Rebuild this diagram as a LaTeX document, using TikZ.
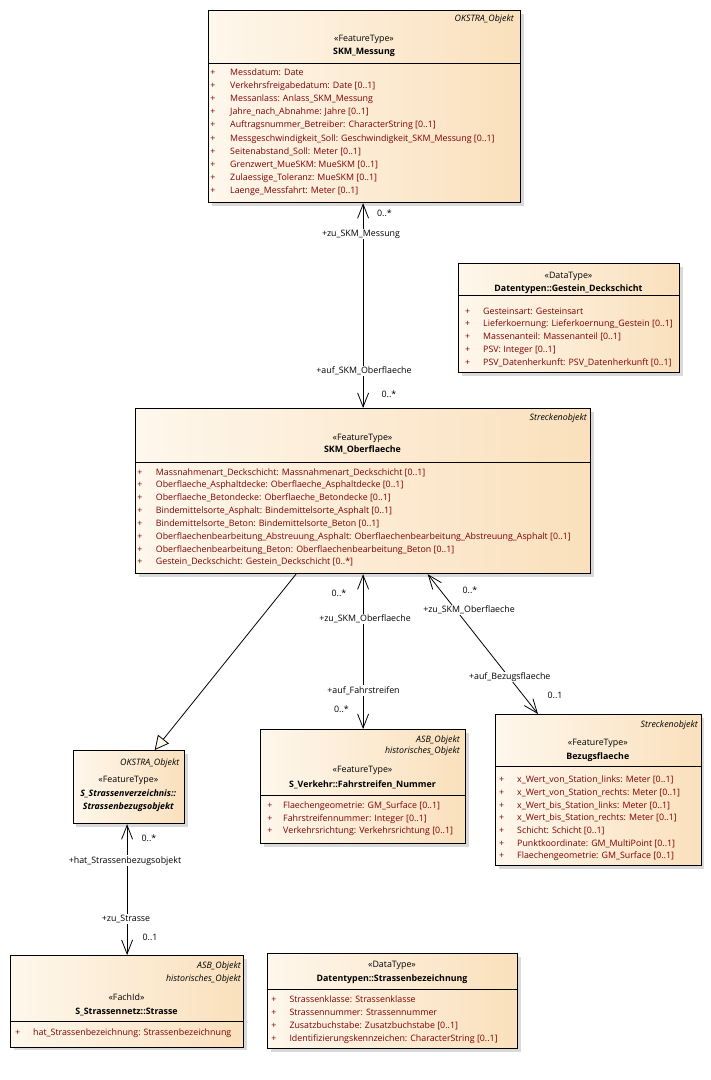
\documentclass[tikz,border=0pt]{standalone}
\usepackage{fontspec}
\setmainfont{Open Sans}
\usetikzlibrary{arrows.meta,shadows,calc}
\definecolor{attrred}{RGB}{128,0,0}
\definecolor{fillL}{RGB}{254,247,236}
\definecolor{fillR}{RGB}{250,224,188}
\newcommand\tf{\fontsize{8.85}{10}\selectfont}
\tikzset{
  cls/.style={draw=black, line width=1.2pt, left color=fillL, right color=fillR, inner sep=0, anchor=north west,
    drop shadow={shadow xshift=3pt, shadow yshift=-3pt, fill=black!15, opacity=1}},
  sepline/.style={line width=0.9pt},
  txt/.style={inner sep=0, font=\tf, text height=6.6pt, text depth=2pt},
  attr/.style={txt, anchor=west, text=attrred},
  plus/.style={txt, anchor=center, text=attrred},
  ster/.style={txt, anchor=center},
  cname/.style={txt, anchor=center, font=\tf\bfseries},
  aname/.style={txt, anchor=center, font=\tf\bfseries\itshape},
  tag/.style={txt, anchor=east, font=\tf\itshape},
  lab/.style={txt, fill=white, inner sep=1pt},
  mult/.style={txt},
  assoc/.style={line width=0.8pt, {Straight Barb[length=14pt,width=11pt]}-{Straight Barb[length=14pt,width=11pt]}},
  gen/.style={line width=0.8pt, -{Triangle[length=14pt,width=14pt,fill=fillL]}},
}
\begin{document}
\begin{tikzpicture}[x=1pt,y=-1pt]
\useasboundingbox[fill=white] (0,0) rectangle (711,1080);

% ---------- SKM_Messung ----------
\node[cls, minimum width=312, minimum height=192] (msg) at (208,10) {};
\draw[sepline] (msg.west |- 0,63) coordinate (msgs1) -- (msg.east |- 0,63) coordinate (msgs2);
\node[tag] (msgt) at (514,19) {OKSTRA\_Objekt};
\node[ster] (msgs) at (364,39) {«FeatureType»};
\node[cname] (msgn) at (364,52.3) {SKM\_Messung};
\foreach \t [count=\i from 0] in {Messdatum: Date,Verkehrsfreigabedatum: Date [0..1],Messanlass: Anlass\_SKM\_Messung,Jahre\_nach\_Abnahme: Jahre [0..1],Auftragsnummer\_Betreiber: CharacterString [0..1],Messgeschwindigkeit\_Soll: Geschwindigkeit\_SKM\_Messung [0..1],Seitenabstand\_Soll: Meter [0..1],Grenzwert\_MueSKM: MueSKM [0..1],Zulaessige\_Toleranz: MueSKM [0..1],Laenge\_Messfahrt: Meter [0..1]}{
  \node[plus] (msgp\i) at (213,73.3+13.08*\i) {+};
  \node[attr] (msga\i) at (230,73.3+13.08*\i) {\t};
}

% ---------- Gestein_Deckschicht ----------
\node[cls, minimum width=221, minimum height=109] (gst) at (458,263) {};
\draw[sepline] (gst.west |- 0,295) -- (gst.east |- 0,295);
\node[ster] (gsts) at (568.5,275.7) {«DataType»};
\node[cname] (gstn) at (568.5,289) {Datentypen::Gestein\_Deckschicht};
\foreach \t [count=\i from 0] in {Gesteinsart: Gesteinsart,Lieferkoernung: Lieferkoernung\_Gestein [0..1],Massenanteil: Massenanteil [0..1],PSV: Integer [0..1],PSV\_Datenherkunft: PSV\_Datenherkunft [0..1]}{
  \node[plus] (gstp\i) at (467.7,311.7+12.75*\i) {+};
  \node[attr] (gsta\i) at (483,311.7+12.75*\i) {\t};
}

% ---------- SKM_Oberflaeche ----------
\node[cls, minimum width=455, minimum height=165] (obf) at (135,408) {};
\draw[sepline] (obf.west |- 0,462) -- (obf.east |- 0,462);
\node[tag] (obft) at (587,418) {Streckenobjekt};
\node[ster] (obfs) at (362.5,437.7) {«FeatureType»};
\node[cname] (obfn) at (362.5,450) {SKM\_Oberflaeche};
\foreach \t [count=\i from 0] in {Massnahmenart\_Deckschicht: Massnahmenart\_Deckschicht [0..1],Oberflaeche\_Asphaltdecke: Oberflaeche\_Asphaltdecke [0..1],Oberflaeche\_Betondecke: Oberflaeche\_Betondecke [0..1],Bindemittelsorte\_Asphalt: Bindemittelsorte\_Asphalt [0..1],Bindemittelsorte\_Beton: Bindemittelsorte\_Beton [0..1],Oberflaechenbearbeitung\_Abstreuung\_Asphalt: Oberflaechenbearbeitung\_Abstreuung\_Asphalt [0..1],Oberflaechenbearbeitung\_Beton: Oberflaechenbearbeitung\_Beton [0..1],Gestein\_Deckschicht: Gestein\_Deckschicht [0..*]}{
  \node[plus] (obfp\i) at (140,472.7+12.85*\i) {+};
  \node[attr] (obfa\i) at (155.7,472.7+12.85*\i) {\t};
}

% ---------- Strassenbezugsobjekt ----------
\node[cls, minimum width=111.3, minimum height=73] (sbo) at (72.7,750) {};
\node[tag] (sbot) at (179.5,763) {OKSTRA\_Objekt};
\node[ster] (sbos) at (128.3,780) {«FeatureType»};
\node[aname] (sbon1) at (128.3,794) {S\_Strassenverzeichnis::};
\node[aname] (sbon2) at (128.3,807) {Strassenbezugsobjekt};

% ---------- S_Verkehr::Fahrstreifen_Nummer ----------
\node[cls, minimum width=205, minimum height=114] (fsn) at (260,729) {};
\draw[sepline] (fsn.west |- 0,795) -- (fsn.east |- 0,795);
\node[tag] (fsnt1) at (460,740) {ASB\_Objekt};
\node[tag] (fsnt2) at (460,751.5) {historisches\_Objekt};
\node[ster] (fsns) at (362.5,770) {«FeatureType»};
\node[cname] (fsnn) at (362.5,785) {S\_Verkehr::Fahrstreifen\_Nummer};
\foreach \t [count=\i from 0] in {Flaechengeometrie: GM\_Surface [0..1],Fahrstreifennummer: Integer [0..1],Verkehrsrichtung: Verkehrsrichtung [0..1]}{
  \node[plus] (fsnp\i) at (270,806+12.8*\i) {+};
  \node[attr] (fsna\i) at (283,806+12.8*\i) {\t};
}

% ---------- Bezugsflaeche ----------
\node[cls, minimum width=205.7, minimum height=151] (bzf) at (495,714) {};
\draw[sepline] (bzf.west |- 0,766.7) -- (bzf.east |- 0,766.7);
\node[tag] (bzft) at (698,725) {Streckenobjekt};
\node[ster] (bzfs) at (597.8,743) {«FeatureType»};
\node[cname] (bzfn) at (597.8,756.7) {Bezugsflaeche};
\foreach \t [count=\i from 0] in {x\_Wert\_von\_Station\_links: Meter [0..1],x\_Wert\_von\_Station\_rechts: Meter [0..1],x\_Wert\_bis\_Station\_links: Meter [0..1],x\_Wert\_bis\_Station\_rechts: Meter [0..1],Schicht: Schicht [0..1],Punktkoordinate: GM\_MultiPoint [0..1],Flaechengeometrie: GM\_Surface [0..1]}{
  \node[plus] (bzfp\i) at (501.7,780.6+12.65*\i) {+};
  \node[attr] (bzfa\i) at (517,780.6+12.65*\i) {\t};
}

% ---------- S_Strassennetz::Strasse ----------
\node[cls, minimum width=233, minimum height=91.7] (str) at (10,955) {};
\draw[sepline] (str.west |- 0,1021.7) -- (str.east |- 0,1021.7);
\node[tag] (strt1) at (241,965.7) {ASB\_Objekt};
\node[tag] (strt2) at (241,979) {historisches\_Objekt};
\node[ster] (strs) at (126.5,998) {«FachId»};
\node[cname] (strn) at (126.5,1011.7) {S\_Strassennetz::Strasse};
\node[plus] (strp0) at (17.7,1032.7) {+};
\node[attr] (stra0) at (33,1032.7) {hat\_Strassenbezeichnung: Strassenbezeichnung};

% ---------- Strassenbezeichnung ----------
\node[cls, minimum width=250, minimum height=95] (sbz) at (267,953) {};
\draw[sepline] (sbz.west |- 0,989.7) -- (sbz.east |- 0,989.7);
\node[ster] (sbzs) at (392,964.7) {«DataType»};
\node[cname] (sbzn) at (392,978.7) {Datentypen::Strassenbezeichnung};
\foreach \t [count=\i from 0] in {Strassenklasse: Strassenklasse,Strassennummer: Strassennummer,Zusatzbuchstabe: Zusatzbuchstabe [0..1],Identifizierungskennzeichen: CharacterString [0..1]}{
  \node[plus] (sbzp\i) at (274,1000.3+12.8*\i) {+};
  \node[attr] (sbza\i) at (289.3,1000.3+12.8*\i) {\t};
}

% ---------- connectors ----------
% SKM_Messung -- SKM_Oberflaeche
\draw[assoc] (obf.north |- msg.south) -- (obf.north);
\node[mult] (m1a) at (384.5,214) {0..*};
\node[lab] (l1a) at (361,234) {+zu\_SKM\_Messung};
\node[lab] (l1b) at (364,371) {+auf\_SKM\_Oberflaeche};
\node[mult] (m1b) at (389,395) {0..*};

% SKM_Oberflaeche -- Fahrstreifen_Nummer
\draw[assoc] (obf.south) -- (fsn.north);
\node[mult] (m2a) at (339,594) {0..*};
\node[lab] (l2a) at (365,619) {+zu\_SKM\_Oberflaeche};
\node[lab] (l2b) at (363.5,690.7) {+auf\_Fahrstreifen};
\node[mult] (m2b) at (341.5,710) {0..*};

% SKM_Oberflaeche -- Bezugsflaeche
\draw[assoc] ($(obf.south west)+(292.7,0)$) -- ($(bzf.north west)+(43,0)$);
\node[mult] (m3a) at (470,591) {0..*};
\node[lab] (l3a) at (469,610) {+zu\_SKM\_Oberflaeche};
\node[lab] (l3b) at (509.7,677) {+auf\_Bezugsflaeche};
\node[mult] (m3b) at (555,696) {0..1};

% generalization SKM_Oberflaeche -> Strassenbezugsobjekt
\draw[gen] ($(obf.south west)+(161,0)$) -- ($(sbo.north west)+(82,0)$);

% Strassenbezugsobjekt -- Strasse
\draw[assoc] (str.north |- sbo.south) -- (str.north);
\node[mult] (m4a) at (149,839) {0..*};
\node[lab] (l4a) at (125,860.7) {+hat\_Strassenbezugsobjekt};
\node[lab] (l4b) at (126,919) {+zu\_Strasse};
\node[mult] (m4b) at (150,938) {0..1};
\end{tikzpicture}
\end{document}
